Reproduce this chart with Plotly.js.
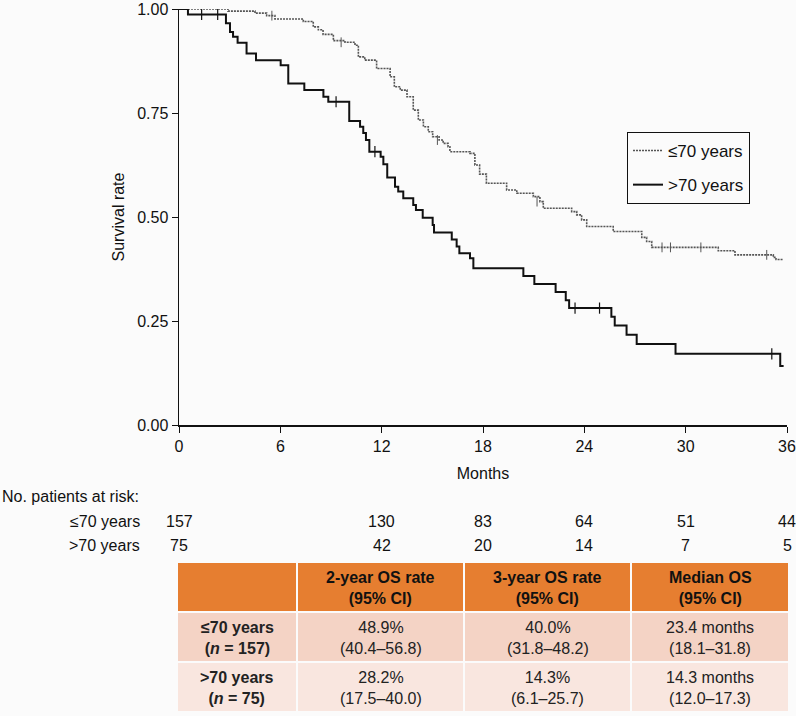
<!DOCTYPE html>
<html>
<head>
<meta charset="utf-8">
<script src="https://cdn.plot.ly/plotly-3.0.1.min.js"></script>
<style>
  html, body { margin: 0; padding: 0; background: #fbfbfb; }
  #chart { width: 796px; height: 716px; }
</style>
</head>
<body>
<div id="chart"></div>
<script>
// Kaplan-Meier steps (months, survival)
const youngMonths = [0, 2.9, 4.5, 5.19, 5.68, 7.36, 7.95, 8.25, 8.53, 9.14, 9.83, 10.42, 10.62, 11.0, 11.7, 12.5, 12.75, 13.1, 13.5, 13.87, 14.17, 14.47, 14.76, 15.02, 15.4, 15.64, 15.93, 16.04, 17.23, 17.52, 17.8, 18.2, 19.4, 20.0, 20.98, 21.37, 21.57, 23.25, 23.55, 23.84, 24.14, 25.71, 27.4, 27.69, 27.99, 31.93, 32.92, 35.19, 35.35, 35.78];
const youngSurv = [1, 0.995, 0.99, 0.984, 0.976, 0.970, 0.957, 0.950, 0.939, 0.924, 0.920, 0.913, 0.885, 0.877, 0.857, 0.837, 0.813, 0.805, 0.789, 0.757, 0.733, 0.717, 0.705, 0.693, 0.685, 0.677, 0.669, 0.657, 0.653, 0.625, 0.603, 0.581, 0.565, 0.557, 0.549, 0.537, 0.521, 0.513, 0.505, 0.493, 0.477, 0.465, 0.451, 0.441, 0.427, 0.419, 0.409, 0.403, 0.398, 0.398];

const oldMonths = [0, 0.53, 2.78, 3.02, 3.2, 3.47, 4.0, 4.56, 6.02, 6.47, 7.42, 8.55, 8.84, 10.08, 10.72, 10.91, 11.07, 11.27, 11.94, 12.1, 12.33, 12.79, 12.98, 13.28, 13.87, 14.03, 14.43, 15.02, 15.1, 16.15, 16.44, 16.6, 17.23, 17.43, 20.39, 21.04, 22.3, 22.9, 23.1, 25.6, 25.8, 26.5, 27.1, 29.4, 35.6, 35.8];
const oldSurv = [1, 0.987, 0.966, 0.945, 0.933, 0.919, 0.893, 0.877, 0.865, 0.821, 0.805, 0.789, 0.777, 0.731, 0.717, 0.702, 0.685, 0.657, 0.645, 0.627, 0.595, 0.573, 0.561, 0.545, 0.529, 0.517, 0.498, 0.481, 0.463, 0.446, 0.429, 0.413, 0.401, 0.377, 0.358, 0.339, 0.320, 0.300, 0.281, 0.260, 0.239, 0.217, 0.195, 0.171, 0.142, 0.142];

// censoring ticks
const youngCensorMonths = [5.5, 9.6, 15.3, 21.2, 28.6, 29.1, 30.9, 34.8];
const youngCensorSurv = [0.984, 0.920, 0.685, 0.537, 0.427, 0.427, 0.427, 0.409];
const oldCensorMonths = [1.34, 2.29, 9.3, 11.6, 23.45, 24.9, 35.1];
const oldCensorSurv = [0.987, 0.987, 0.777, 0.657, 0.281, 0.281, 0.171];

const groupLabels = ['≤70 years', '>70 years'];
const riskMonths = [0, 12, 18, 24, 30, 36];
const riskYoung = [157, 130, 83, 64, 51, 44];
const riskOld = [75, 42, 20, 14, 7, 5];

const tableHeader = ['', '<b>2-year OS rate</b><br><b>(95% CI)</b>', '<b>3-year OS rate</b><br><b>(95% CI)</b>', '<b>Median OS</b><br><b>(95% CI)</b>'];
const tableRowLabels = ['<b>≤70 years</b><br><b>(<i>n</i> = 157)</b>', '<b>>70 years</b><br><b>(<i>n</i> = 75)</b>'];
const twoYear = ['48.9%<br>(40.4–56.8)', '28.2%<br>(17.5–40.0)'];
const threeYear = ['40.0%<br>(31.8–48.2)', '14.3%<br>(6.1–25.7)'];
const medianOs = ['23.4 months<br>(18.1–31.8)', '14.3 months<br>(12.0–17.3)'];

const W = 796, H = 716;
const font = 'Liberation Sans, Arial, sans-serif';
const py = (px) => 1 - px / H;
const pxx = (px) => px / W;

// table grid in pixels
const colEdges = [[178, 296], [298, 463], [465, 630], [632, 788]];
const rowEdges = [[563, 611], [613, 661], [663, 711]];
const rowFills = ['#e67e30', '#f4d3c5', '#f9e6df'];

const shapes = [];
const tableAnnotations = [];
const tableRows = [tableHeader, ...tableRowLabels.map((label, i) => [label, twoYear[i], threeYear[i], medianOs[i]])];
tableRows.forEach((row, r) => {
  row.forEach((text, c) => {
    const [x0, x1] = colEdges[c];
    const [y0, y1] = rowEdges[r];
    shapes.push({
      type: 'rect', xref: 'paper', yref: 'paper', x0: pxx(x0), x1: pxx(x1), y0: py(y1), y1: py(y0),
      fillcolor: rowFills[r], line: { width: 0 }, layer: 'below',
    });
    if (text) {
      tableAnnotations.push({
        text, xref: 'paper', yref: 'paper', x: pxx((x0 + x1) / 2), y: py((y0 + y1) / 2 + 1),
        xanchor: 'center', yanchor: 'middle', align: 'center', showarrow: false,
        font: { family: font, size: 16, color: r === 0 ? '#111' : '#222' },
      });
    }
  });
});

const traces = [
  {
    x: youngMonths, y: youngSurv, type: 'scatter', mode: 'lines', line: { shape: 'hv', color: '#555', width: 1.6, dash: '2px,1px' },
    name: groupLabels[0], legendgroup: 'a', hoverinfo: 'skip',
  },
  {
    x: oldMonths, y: oldSurv, type: 'scatter', mode: 'lines', line: { shape: 'hv', color: '#111', width: 2 },
    name: groupLabels[1], legendgroup: 'b', hoverinfo: 'skip',
  },
  {
    x: youngCensorMonths, y: youngCensorSurv, type: 'scatter', mode: 'markers', showlegend: false, hoverinfo: 'skip',
    marker: { symbol: 'line-ns-open', size: 7, color: '#555', line: { color: '#555', width: 1 } },
  },
  {
    x: oldCensorMonths, y: oldCensorSurv, type: 'scatter', mode: 'markers', showlegend: false, hoverinfo: 'skip',
    marker: { symbol: 'line-ns-open', size: 8, color: '#111', line: { color: '#111', width: 1.2 } },
  },
];

const riskFont = { family: font, size: 16, color: '#111' };
const annotations = [
  { text: 'No. patients at risk:', xref: 'paper', yref: 'paper', x: 0, y: py(497), xanchor: 'left', yanchor: 'middle', showarrow: false, font: riskFont },
  { text: groupLabels[0], xref: 'paper', yref: 'paper', x: pxx(142), y: py(521), xanchor: 'right', yanchor: 'middle', showarrow: false, font: riskFont },
  { text: groupLabels[1], xref: 'paper', yref: 'paper', x: pxx(142), y: py(545), xanchor: 'right', yanchor: 'middle', showarrow: false, font: riskFont },
  ...riskMonths.map((m, i) => ({ text: String(riskYoung[i]), xref: 'x', yref: 'paper', x: m, y: py(521), xanchor: 'center', yanchor: 'middle', showarrow: false, font: riskFont })),
  ...riskMonths.map((m, i) => ({ text: String(riskOld[i]), xref: 'x', yref: 'paper', x: m, y: py(545), xanchor: 'center', yanchor: 'middle', showarrow: false, font: riskFont })),
  ...tableAnnotations,
];

const layout = {
  width: W, height: H,
  margin: { l: 0, r: 0, t: 0, b: 0 },
  paper_bgcolor: '#fbfbfb', plot_bgcolor: '#fbfbfb',
  font: { family: font, size: 16, color: '#111' },
  showlegend: true,
  legend: {
    x: pxx(627), y: py(132), xanchor: 'left', yanchor: 'top',
    bordercolor: '#111', borderwidth: 1, bgcolor: '#fbfbfb',
    font: { family: font, size: 17, color: '#111' }, tracegroupgap: 9, entrywidth: 92,
  },
  xaxis: {
    domain: [pxx(179), pxx(787)], range: [0, 36], tickvals: [0, 6, 12, 18, 24, 30, 36],
    ticks: 'outside', ticklen: 6, tickcolor: '#111', showline: true, linecolor: '#111', linewidth: 1.5,
    showgrid: false, zeroline: false, tickfont: { size: 16 },
    title: { text: 'Months', font: { size: 16 }, standoff: 14 },
  },
  yaxis: {
    domain: [py(425), py(9)], range: [0, 1], tickvals: [0, 0.25, 0.5, 0.75, 1], tickformat: '.2f',
    ticks: 'outside', ticklen: 6, tickcolor: '#111', showline: true, linecolor: '#111', linewidth: 1.5,
    showgrid: false, zeroline: false, tickfont: { size: 16 },
    title: { text: 'Survival rate', font: { size: 16 }, standoff: 8 },
  },
  shapes,
  annotations,
};

Plotly.newPlot('chart', traces, layout, { displayModeBar: false, staticPlot: true });
</script>
</body>
</html>
